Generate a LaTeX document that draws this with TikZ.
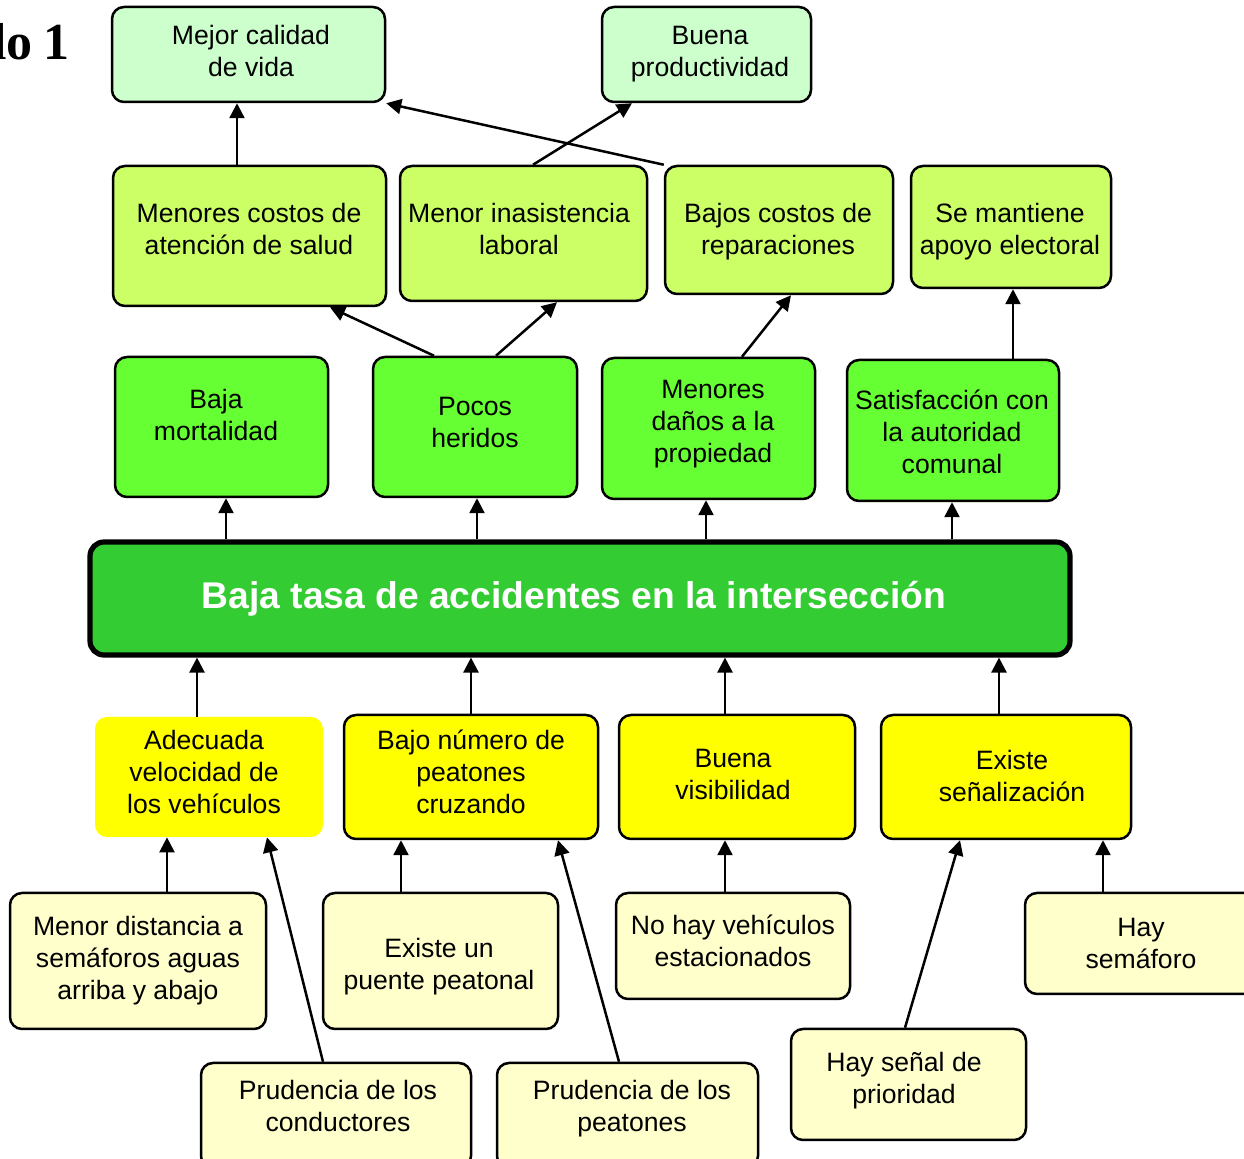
\documentclass[tikz,border=0pt]{standalone}
\usepackage{fontspec}
\setmainfont{Liberation Sans}
\newfontfamily\titleserif{Liberation Serif}
\usetikzlibrary{fit,arrows.meta}
\definecolor{cTop}{HTML}{CCFFCC}
\definecolor{cLime}{HTML}{CCFF66}
\definecolor{cGreen}{HTML}{66FF33}
\definecolor{cMain}{HTML}{33CC33}
\definecolor{cYel}{HTML}{FFFF00}
\definecolor{cCream}{HTML}{FFFFCC}
\tikzset{
  box/.style={draw=black, line width=1.25pt, rounded corners=6pt, inner sep=0pt},
  topbox/.style={box, fill=cTop},
  limebox/.style={box, fill=cLime},
  greenbox/.style={box, fill=cGreen},
  yelbox/.style={box, fill=cYel},
  nobordbox/.style={fill=cYel, rounded corners=6pt, inner sep=0pt},
  creambox/.style={box, fill=cCream},
  mainbox/.style={draw=black, line width=2.6pt, rounded corners=7pt, fill=cMain, inner sep=0pt},
  lbl/.style={font=\fontsize{13.3}{16}\selectfont, align=center, inner sep=0pt},
  mainlbl/.style={font=\bfseries\fontsize{18.6}{22}\selectfont, text=white, inner sep=0pt},
  arr/.style={line width=1.25pt, -{Triangle[length=7.5pt,width=7.5pt]}}
}
\newcommand\mkbox[6]{%
  \node[#2, fit={(#3) (#4)}] (#1) {};
  \node[lbl] (#1t) at (#5) {#6};
}
\begin{document}
\begin{tikzpicture}[x=0.5pt,y=-0.5pt]
\useasboundingbox (0,0) rectangle (1244,1159);
\clip (0,0) rectangle (1244,1159);

\node[font=\titleserif\bfseries\fontsize{26}{30}\selectfont, anchor=base east, inner sep=0pt] (title) at (70,60) {lo\hspace{-1pt} 1};

% top row
\mkbox{b1}{topbox}{112,7}{385,102}{251,51}{Mejor calidad\\de vida}
\mkbox{b2}{topbox}{602,7}{811,102}{710,54}{Buena\\productividad}
% second row
\mkbox{b3}{limebox}{113,166}{386,306}{249,229}{Menores costos de\\atención de salud}
\mkbox{b4}{limebox}{400,166}{647,301}{519,229}{Menor inasistencia\\laboral}
\mkbox{b5}{limebox}{665,166}{893,294}{778,232}{Bajos costos de\\reparaciones}
\mkbox{b6}{limebox}{911,166}{1111,288}{1010,232}{Se mantiene\\apoyo electoral}
% third row
\mkbox{b7}{greenbox}{115,357}{328,497}{216,415}{Baja\\mortalidad}
\mkbox{b8}{greenbox}{373,357}{577,497}{475,422}{Pocos\\heridos}
\mkbox{b9}{greenbox}{602,358}{815,499}{713,424}{Menores\\daños a la\\propiedad}
\mkbox{b10}{greenbox}{847,360}{1059,501}{952,432}{Satisfacción con\\la autoridad\\comunal}
% main
\node[mainbox, fit={(90,542) (1070,655)}] (main) {};
\node[mainlbl] (maint) at (574,599) {Baja tasa de accidentes en la intersección};
% yellow row
\mkbox{b12}{nobordbox}{95,717}{323,837}{204,772}{Adecuada\\velocidad de\\los vehículos}
\mkbox{b13}{yelbox}{344,715}{598,839}{471,772}{Bajo número de\\peatones\\cruzando}
\mkbox{b14}{yelbox}{619,715}{855,839}{733,774}{Buena\\visibilidad}
\mkbox{b15}{yelbox}{881,715}{1131,839}{1012,776}{Existe\\señalización}
% cream rows
\mkbox{b16}{creambox}{10,893}{266,1029}{138,961}{Menor distancia a\\semáforos aguas\\arriba y abajo}
\mkbox{b17}{creambox}{323,893}{558,1029}{439,967}{Existe un\\puente peatonal}
\mkbox{b18}{creambox}{616,893}{850,999}{733,941}{No hay vehículos\\estacionados}
\mkbox{b19}{creambox}{1025,893}{1256,994}{1141,943}{Hay\\semáforo}
\mkbox{b20}{creambox}{201,1063}{471,1168}{338,1106}{Prudencia de los\\conductores}
\mkbox{b21}{creambox}{497,1063}{758,1168}{632,1109}{Prudencia de los\\peatones}
\mkbox{b22}{creambox}{791,1029}{1026,1140}{904,1081}{Hay señal de\\prioridad}

% arrows upper part
\draw[arr] (b3.north -| 237,0) -- (b1.south -| 237,0);
\draw[arr] (b5.north west) -- (b1.south east);
\draw[arr] (b4.north -| 533,0) -- (b2.south -| 632,0);
\draw[arr] (b8.north -| 434,0) -- (b3.south -| 330,0);
\draw[arr] (b8.north -| 496,0) -- (b4.south -| 557,0);
\draw[arr] (b9.north -| 742,0) -- (b5.south -| 791,0);
\draw[arr] (b10.north -| 1013,0) -- (b6.south -| 1013,0);
% main to effects
\draw[arr] (main.north -| 226,0) -- (b7.south -| 226,0);
\draw[arr] (main.north -| 477,0) -- (b8.south -| 477,0);
\draw[arr] (main.north -| 706,0) -- (b9.south -| 706,0);
\draw[arr] (main.north -| 952,0) -- (b10.south -| 952,0);
% causes to main
\draw[arr] (b12.north -| 197,0) -- (main.south -| 197,0);
\draw[arr] (b13.north -| 471,0) -- (main.south -| 471,0);
\draw[arr] (b14.north -| 725,0) -- (main.south -| 725,0);
\draw[arr] (b15.north -| 999,0) -- (main.south -| 999,0);
% lower causes
\draw[arr] (b16.north -| 167,0) -- (b12.south -| 167,0);
\draw[arr] (b20.north -| 323,0) -- (b12.south -| 267,0);
\draw[arr] (b17.north -| 401,0) -- (b13.south -| 401,0);
\draw[arr] (b21.north -| 619,0) -- (b13.south -| 558,0);
\draw[arr] (b18.north -| 725,0) -- (b14.south -| 725,0);
\draw[arr] (b22.north -| 905,0) -- (b15.south -| 960,0);
\draw[arr] (b19.north -| 1103,0) -- (b15.south -| 1103,0);
\end{tikzpicture}
\end{document}
